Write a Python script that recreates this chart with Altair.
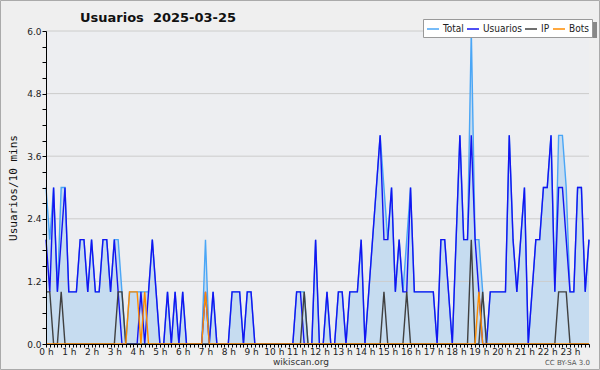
import altair as alt
import pandas as pd

# 10-minute samples, 6 per hour (0 h ... 23 h 50)
total = [3,2,3,1,3,3, 1,1,1,2,2,1, 2,1,1,2,2,1, 2,2,1,0,1,1,
         1,1,1,1,2,1, 0,0,1,0,1,0, 1,0,0,0,0,0, 2,0,1,0,0,0,
         0,1,1,1,0,1, 1,0,0,0,0,0, 0,0,0,0,0,0, 1,1,1,0,0,2,
         0,0,1,0,0,1, 1,0,1,1,1,2, 0,1,2,3,4,3, 2,3,1,2,1,2,
         3,1,1,1,1,1, 1,0,2,2,1,0, 2,4,2,2,6,2, 2,1,0,1,1,1,
         1,1,4,2,1,2, 3,0,1,2,2,3, 3,4,1,4,4,3, 1,1,3,3,1,2]
usuarios = [2,1,3,1,2,3, 1,1,1,2,2,1, 2,1,1,2,2,1, 2,1,0,0,0,0,
            0,1,0,1,2,1, 0,0,1,0,1,0, 1,0,0,0,0,0, 1,0,1,0,0,0,
            0,1,1,1,0,1, 1,0,0,0,0,0, 0,0,0,0,0,0, 1,1,0,0,0,2,
            0,0,1,0,0,1, 1,0,1,1,1,2, 0,1,2,3,4,2, 2,3,1,2,1,1,
            3,1,1,1,1,1, 1,0,2,2,1,0, 2,4,2,2,4,2, 1,0,0,1,1,1,
            1,1,4,2,1,2, 3,0,1,2,2,3, 3,4,1,3,3,2, 1,1,3,3,1,2]
ip = [1,1,0,0,1,0, 0,0,0,0,0,0, 0,0,0,0,0,0, 0,1,1,0,0,0,
      0,0,0,0,0,0, 0,0,0,0,0,0, 0,0,0,0,0,0, 0,0,0,0,0,0,
      0,0,0,0,0,0, 0,0,0,0,0,0, 0,0,0,0,0,0, 0,0,1,0,0,0,
      0,0,0,0,0,0, 0,0,0,0,0,0, 0,0,0,0,0,1, 0,0,0,0,0,1,
      0,0,0,0,0,0, 0,0,0,0,0,0, 0,0,0,0,2,0, 0,1,0,0,0,0,
      0,0,0,0,0,0, 0,0,0,0,0,0, 0,0,0,1,1,1, 0,0,0,0,0,0]
bots = [0,0,0,0,0,0, 0,0,0,0,0,0, 0,0,0,0,0,0, 0,0,0,0,1,1,
        1,0,1,0,0,0, 0,0,0,0,0,0, 0,0,0,0,0,0, 1,0,0,0,0,0,
        0,0,0,0,0,0, 0,0,0,0,0,0, 0,0,0,0,0,0, 0,0,0,0,0,0,
        0,0,0,0,0,0, 0,0,0,0,0,0, 0,0,0,0,0,0, 0,0,0,0,0,0,
        0,0,0,0,0,0, 0,0,0,0,0,0, 0,0,0,0,0,0, 1,0,0,0,0,0,
        0,0,0,0,0,0, 0,0,0,0,0,0, 0,0,0,0,0,0, 0,0,0,0,0,0]

series_names = ["Total", "Usuarios", "IP", "Bots"]
series_colors = ["#4AA6F6", "#1414F0", "#404040", "#FF8C00"]
y_ticks = [round(k * 0.3, 1) for k in range(21)]
y_grid = [1.2, 2.4, 3.6, 4.8, 6.0]
x_ticks = [k / 6 for k in range(144)]
title_text = "Usuarios\u00a0\u00a02025-03-25"

rows = []
for name, arr in zip(series_names, [total, usuarios, ip, bots]):
    for i, v in enumerate(arr):
        rows.append({"t": i / 6, "v": v, "serie": name})
df = pd.DataFrame(rows)
grid_df = pd.DataFrame({"v": y_grid})
one = pd.DataFrame({"a": [0]})

FONT = "DejaVu Sans"
x_scale = alt.Scale(domain=[0, 143 / 6], nice=False, zero=False)
y_scale = alt.Scale(domain=[0, 6], nice=False)

x_axis = alt.Axis(
    values=x_ticks, title=None, grid=False, domainColor="black", tickColor="black",
    tickSize=3, labelFontSize=9, labelFont=FONT, labelColor="#222", labelPadding=0,
    labelOverlap=False, labelFlush=False, zindex=1,
    labelExpr="abs(datum.value - round(datum.value)) < 0.001 ? round(datum.value) + ' h' : ''")
y_axis = alt.Axis(
    values=y_ticks, title="Usuarios/10 mins", grid=False, domainColor="black",
    tickColor="black", tickSize=4, labelFontSize=9, labelFont=FONT, labelColor="#222",
    labelOverlap=False, labelPadding=1, zindex=1,
    titleFont="DejaVu Sans Mono", titleFontSize=11, titleFontWeight="normal",
    titleColor="#111", titlePadding=8,
    labelExpr="abs(datum.value/1.2 - round(datum.value/1.2)) < 0.001 ? format(datum.value, '.1f') : ''")

x_enc = alt.X("t:Q", scale=x_scale, axis=x_axis)
y_enc = alt.Y("v:Q", scale=y_scale, axis=y_axis)

base = alt.Chart(df)

area = base.transform_filter(alt.datum.serie == "Total").mark_area(
    color="#C6DCF0", opacity=1, interpolate="linear").encode(x=x_enc, y=y_enc)

grid = alt.Chart(grid_df).mark_rule(color="#CCCCCC", strokeWidth=1).encode(y=y_enc)

color_enc = alt.Color("serie:N", scale=alt.Scale(domain=series_names, range=series_colors),
                      legend=alt.Legend(title=None, orient="none", legendX=377, legendY=-12,
                                        direction="horizontal", symbolType="stroke",
                                        symbolSize=144, symbolStrokeWidth=1.5,
                                        labelFont="DejaVu Sans Condensed", labelFontSize=10,
                                        labelColor="#222", labelOffset=3, columnPadding=0,
                                        padding=3, fillColor="white", strokeColor="#999"))

lines = []
for name in series_names:
    lines.append(base.transform_filter(alt.datum.serie == name).mark_line(
        strokeWidth=1.4, interpolate="linear").encode(x=x_enc, y=y_enc, color=color_enc))

shadow = alt.Chart(one).mark_rect(color="#888888").encode(
    x=alt.value(379), x2=alt.value(551), y=alt.value(-9), y2=alt.value(7))

border = alt.Chart(one).mark_rect(fill=None, stroke="#AAAAAA", strokeWidth=1).encode(
    x=alt.value(-45.5), x2=alt.value(553.5), y=alt.value(-30.5), y2=alt.value(338.5))

title = alt.Chart(one).mark_text(fontSize=13, font=FONT, fontWeight="bold", color="#111",
                                 align="left", baseline="alphabetic").encode(
    x=alt.value(34), y=alt.value(-9), text=alt.value(title_text))
site = alt.Chart(one).mark_text(fontSize=9, font=FONT, color="#333", baseline="alphabetic").encode(
    x=alt.value(255), y=alt.value(334), text=alt.value("wikiscan.org"))
lic = alt.Chart(one).mark_text(fontSize=7, font=FONT, color="#555", align="right",
                               baseline="alphabetic").encode(
    x=alt.value(544), y=alt.value(334), text=alt.value("CC BY-SA 3.0"))

chart = alt.layer(area, grid, *lines, shadow, title, site, lic, border).properties(
    width=543, height=313,
    autosize=alt.AutoSizeParams(type="none"),
    padding={"left": 46, "top": 31, "right": 11, "bottom": 26},
    background="#EFEFEF",
).configure_view(fill="#EDEEF1", stroke=None)

chart.save("out.html", embed_options={"renderer": "svg", "actions": False})
